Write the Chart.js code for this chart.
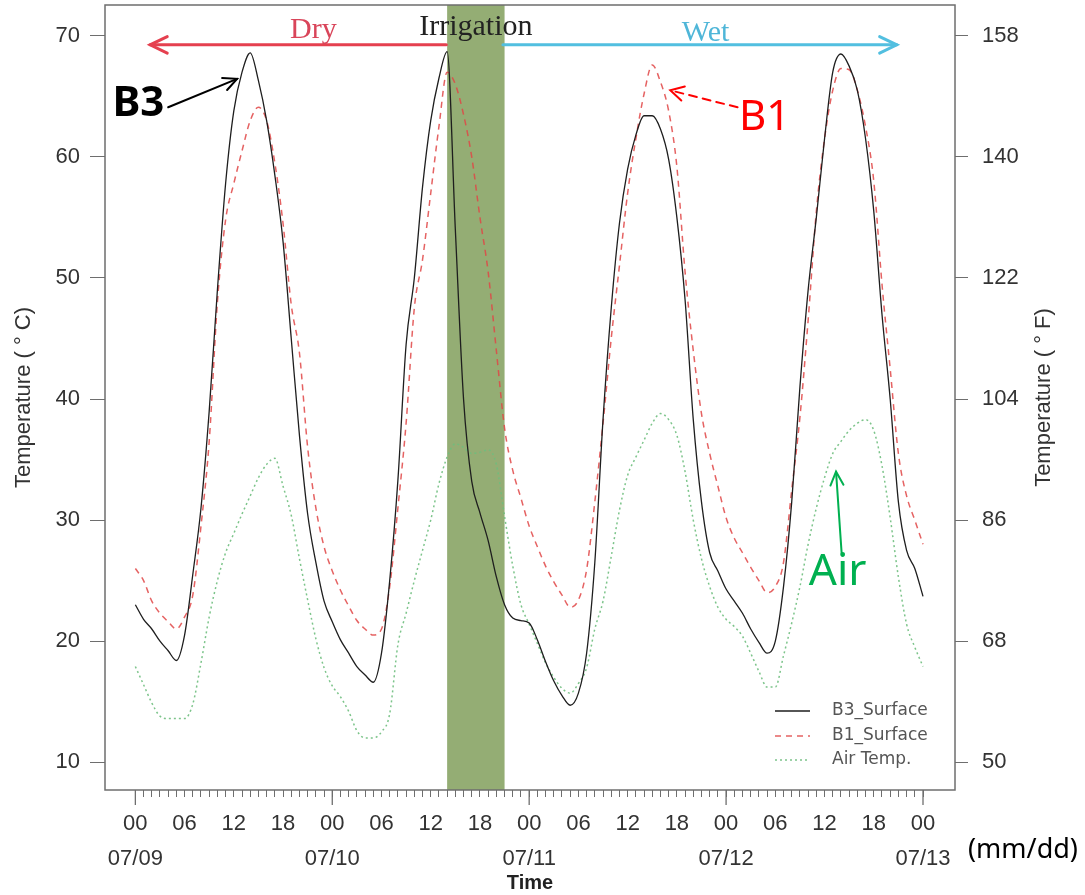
<!DOCTYPE html>
<html>
<head>
<meta charset="utf-8">
<script src="https://cdn.jsdelivr.net/npm/chart.js@4.4.1/dist/chart.umd.min.js"></script>
<style>
  html, body { margin: 0; padding: 0; background: #fff; }
  #wrap { position: relative; width: 1085px; height: 895px; }
</style>
</head>
<body>
<div id="wrap"><canvas id="tempChart"></canvas></div>
<script>
// hourly readings from 07/09 00:00 to 07/13 00:00 (deg C)
const dayLabels = ['07/09', '07/10', '07/11', '07/12', '07/13'];
const b3Surface = [23.0, 21.8, 21.0, 20.0, 19.2, 18.4, 20.5, 25.5, 31.0, 39.0,
  49.0, 57.8, 63.8, 67.0, 68.6, 66.3, 63.0, 58.5, 53.0, 45.0,
  37.0, 30.5, 26.5, 23.3, 21.6, 20.1, 19.0, 17.9, 17.2, 16.6,
  19.0, 25.0, 33.3, 44.5, 50.0, 57.5, 63.0, 66.5, 68.7, 54.0,
  40.0, 33.2, 30.6, 28.3, 25.3, 23.0, 21.9, 21.7, 21.5, 20.1,
  18.3, 16.7, 15.5, 14.7, 15.7, 19.0, 26.5, 38.3, 47.5, 54.5,
  59.0, 61.8, 63.4, 63.4, 62.3, 59.8, 55.0, 48.2, 38.3, 31.5,
  27.3, 25.8, 24.3, 23.3, 22.3, 21.0, 19.9, 19.0, 20.0, 24.5,
  31.5, 41.0, 49.0, 55.0, 61.5, 67.0, 68.5, 67.5, 65.5, 61.5,
  55.5, 47.0, 40.0, 31.5, 27.5, 26.0, 23.7];
const b1Surface = [26.0, 25.0, 23.3, 22.3, 21.6, 21.0, 22.0, 23.8, 29.5, 36.5,
  48.0, 54.8, 57.8, 60.5, 63.0, 64.1, 63.0, 59.5, 54.5, 47.8,
  43.8, 36.0, 31.0, 27.8, 25.8, 24.2, 22.9, 21.7, 21.0, 20.5,
  21.0, 24.5, 31.0, 38.0, 47.5, 51.5, 57.0, 62.5, 67.0, 66.0,
  63.5, 60.0, 55.0, 50.5, 44.0, 37.6, 34.1, 31.8, 29.5, 27.8,
  26.2, 24.9, 23.8, 22.8, 23.4, 25.9, 31.5, 38.0, 45.0, 51.0,
  57.0, 61.5, 65.2, 67.6, 66.2, 63.8, 59.2, 50.5, 44.0, 38.8,
  35.5, 32.8, 30.2, 28.5, 27.3, 26.1, 25.0, 24.0, 24.5, 26.5,
  32.5, 38.5, 46.5, 55.5, 61.5, 65.5, 67.3, 67.2, 65.5, 62.5,
  58.0, 49.5, 42.5, 35.5, 32.0, 30.0, 28.0];
const airTemp = [17.9, 16.4, 14.9, 13.8, 13.6, 13.6, 13.6, 14.8, 18.2, 22.0,
  25.0, 27.3, 28.9, 30.5, 32.0, 33.5, 34.6, 35.1, 32.8, 30.4,
  26.8, 23.4, 20.2, 17.8, 16.3, 15.4, 14.2, 12.6, 12.0, 12.0,
  12.5, 14.0, 19.7, 22.3, 25.0, 27.5, 30.0, 33.0, 35.2, 36.3,
  36.0, 35.5, 35.6, 35.8, 34.6, 30.3, 26.2, 23.0, 21.4, 19.8,
  18.2, 17.0, 16.1, 15.7, 16.5, 17.8, 21.0, 23.3, 27.0, 30.8,
  33.7, 35.2, 36.6, 38.0, 38.8, 38.3, 37.0, 34.0, 30.0, 26.8,
  24.5, 22.8, 21.8, 21.2, 20.4, 19.0, 17.5, 16.2, 16.2, 18.8,
  21.5, 24.5, 28.0, 31.0, 33.5, 35.5, 36.5, 37.4, 38.0, 38.3,
  37.4, 34.5, 30.2, 25.3, 21.4, 19.5, 17.9];
const celsiusTicks = [10, 20, 30, 40, 50, 60, 70];
const fahrenheitTicks = [50, 68, 86, 104, 122, 140, 158];
const irrigationHours = [38, 45];

const hours = b3Surface.map((v, i) => i);
const yMin = 7.7, yMax = 72.55;
const toF = c => c * 1.8 + 32;
const tickFont = { family: 'Liberation Sans, Arial, sans-serif', size: 22 };

function arrow(ctx, x0, y0, x1, y1, head, spread) {
  ctx.beginPath();
  ctx.moveTo(x0, y0);
  ctx.lineTo(x1, y1);
  ctx.stroke();
  const a = Math.atan2(y1 - y0, x1 - x0);
  ctx.setLineDash([]);
  ctx.beginPath();
  ctx.moveTo(x1 - head * Math.cos(a - spread), y1 - head * Math.sin(a - spread));
  ctx.lineTo(x1, y1);
  ctx.lineTo(x1 - head * Math.cos(a + spread), y1 - head * Math.sin(a + spread));
  ctx.stroke();
}

const bandPlugin = {
  id: 'irrigationBand',
  beforeDatasetsDraw(chart) {
    const { ctx, chartArea, scales } = chart;
    const x0 = scales.x.getPixelForValue(irrigationHours[0]);
    const x1 = scales.x.getPixelForValue(irrigationHours[1]);
    ctx.save();
    ctx.fillStyle = '#94ad74';
    ctx.fillRect(x0, chartArea.top, x1 - x0, chartArea.bottom - chartArea.top);
    ctx.restore();
  }
};

const framePlugin = {
  id: 'frame',
  afterDraw(chart) {
    const { ctx, chartArea, scales } = chart;
    ctx.save();
    ctx.strokeStyle = '#6e6e6e';
    ctx.lineWidth = 1.5;
    ctx.strokeRect(chartArea.left, chartArea.top, chartArea.right - chartArea.left, chartArea.bottom - chartArea.top);
    // longer ticks at midnight
    ctx.lineWidth = 1.3;
    hours.filter(h => h % 24 === 0).forEach(h => {
      const x = scales.x.getPixelForValue(h);
      ctx.beginPath();
      ctx.moveTo(x, chartArea.bottom);
      ctx.lineTo(x, chartArea.bottom + 15);
      ctx.stroke();
    });
    // right axis title reads bottom-to-top like the left one
    ctx.fillStyle = '#333';
    ctx.font = '22px Liberation Sans, Arial, sans-serif';
    ctx.textAlign = 'center';
    ctx.textBaseline = 'middle';
    ctx.translate(1044, (chartArea.top + chartArea.bottom) / 2);
    ctx.rotate(-Math.PI / 2);
    ctx.fillText('Temperature ( \u00b0 F)', 0, 0);
    ctx.restore();
  }
};

const legendPlugin = {
  id: 'cornerLegend',
  afterDraw(chart) {
    const { ctx, chartArea } = chart;
    const x0 = chartArea.right - 180;
    const rows = [chartArea.bottom - 79, chartArea.bottom - 54, chartArea.bottom - 30];
    ctx.save();
    ctx.font = '17px DejaVu Sans, sans-serif';
    ctx.textBaseline = 'middle';
    chart.data.datasets.forEach((ds, i) => {
      ctx.strokeStyle = ds.borderColor;
      ctx.lineWidth = ds.borderWidth;
      ctx.setLineDash(ds.borderDash || []);
      ctx.beginPath();
      ctx.moveTo(x0, rows[i]);
      ctx.lineTo(x0 + 35, rows[i]);
      ctx.stroke();
      ctx.fillStyle = '#555';
      ctx.fillText(ds.label, x0 + 57, rows[i]);
    });
    ctx.restore();
  }
};

const notePlugin = {
  id: 'notes',
  afterDraw(chart) {
    const { ctx, chartArea, scales } = chart;
    const px = (h, t) => [scales.x.getPixelForValue(h), scales.y.getPixelForValue(t)];
    ctx.save();
    ctx.lineCap = 'round';
    // Dry / Wet period arrows
    let a = px(37.9, 69.26), b = px(1.8, 69.26);
    ctx.strokeStyle = '#e5404f'; ctx.lineWidth = 3;
    arrow(ctx, a[0], a[1], b[0], b[1], 19, 0.45);
    a = px(44.8, 69.26); b = px(92.8, 69.26);
    ctx.strokeStyle = '#52bfe0';
    arrow(ctx, a[0], a[1], b[0], b[1], 19, 0.45);

    ctx.textAlign = 'center';
    ctx.textBaseline = 'middle';
    ctx.font = '30px Liberation Serif, Times New Roman, serif';
    ctx.fillStyle = '#d9455a';
    let p = px(21.7, 70.5); ctx.fillText('Dry', p[0], p[1]);
    ctx.fillStyle = '#222';
    p = px(41.5, 70.74); ctx.fillText('Irrigation', p[0], p[1]);
    ctx.fillStyle = '#4fb6d8';
    p = px(69.5, 70.25); ctx.fillText('Wet', p[0], p[1]);

    // series callouts
    ctx.font = 'bold 42px Noto Sans, sans-serif';
    ctx.fillStyle = '#000';
    p = px(0.37, 64.4); ctx.fillText('B3', p[0], p[1]);
    ctx.strokeStyle = '#000'; ctx.lineWidth = 2;
    a = px(4.0, 64.1); b = px(12.4, 66.45);
    arrow(ctx, a[0], a[1], b[0], b[1], 15, 0.45);

    ctx.font = '42px Noto Sans, sans-serif';
    ctx.fillStyle = '#ff0000';
    p = px(76.7, 63.2); ctx.fillText('B1', p[0], p[1]);
    ctx.strokeStyle = '#ff0000'; ctx.lineWidth = 2;
    ctx.setLineDash([8, 6]);
    a = px(73.4, 64.1); b = px(65.2, 65.5);
    arrow(ctx, a[0], a[1], b[0], b[1], 15, 0.5);

    ctx.font = '44px Noto Sans, sans-serif';
    ctx.fillStyle = '#00b050';
    p = px(85.6, 25.7); ctx.fillText('Air', p[0], p[1]);
    ctx.strokeStyle = '#00b050'; ctx.lineWidth = 2;
    a = px(86.1, 27.1); b = px(85.4, 34.0);
    arrow(ctx, a[0], a[1], b[0], b[1], 15, 0.45);

    ctx.font = '27px Noto Sans, sans-serif';
    ctx.fillStyle = '#000';
    ctx.textAlign = 'left';
    ctx.fillText('(mm/dd)', chartArea.right + 13, chartArea.bottom + 60);
    ctx.restore();
  }
};

// vertical scales: fixed width and no extra label padding above/below the plot box
const fitVertical = w => s => { s.width = w; s.paddingTop = 0; s.paddingBottom = 0; };

new Chart(document.getElementById('tempChart'), {
  type: 'line',
  data: {
    datasets: [
      { label: 'B3_Surface', data: hours.map((h, i) => ({ x: h, y: b3Surface[i] })),
        borderColor: '#1e1e1e', borderWidth: 1.3, pointRadius: 0, cubicInterpolationMode: 'monotone' },
      { label: 'B1_Surface', data: hours.map((h, i) => ({ x: h, y: b1Surface[i] })),
        borderColor: 'rgba(224,70,70,0.85)', borderWidth: 1.5, borderDash: [6, 5], pointRadius: 0, cubicInterpolationMode: 'monotone' },
      { label: 'Air Temp.', data: hours.map((h, i) => ({ x: h, y: airTemp[i] })),
        borderColor: 'rgba(110,190,125,0.9)', borderWidth: 1.5, borderDash: [2, 3], pointRadius: 0, cubicInterpolationMode: 'monotone' }
    ]
  },
  options: {
    responsive: true,
    maintainAspectRatio: false,
    animation: false,
    devicePixelRatio: 1,
    layout: { padding: { top: 5, left: 0, right: 0, bottom: 0 } },
    plugins: { legend: { display: false }, tooltip: { enabled: false } },
    scales: {
      x: {
        type: 'linear',
        min: -3.7,
        max: 99.9,
        afterBuildTicks: s => { s.ticks = hours.map(h => ({ value: h })); },
        afterFit: s => { s.height = 105; s.paddingLeft = 0; s.paddingRight = 0; },
        ticks: {
          autoSkip: false, maxRotation: 0, minRotation: 0,
          font: Object.assign({ lineHeight: 1.6 }, tickFont), color: '#333', padding: 9,
          callback: v => {
            if (v % 6 !== 0) return '';
            const hh = String(v % 24).padStart(2, '0');
            return v % 24 === 0 ? [hh, dayLabels[v / 24]] : hh;
          }
        },
        grid: { drawOnChartArea: false, tickLength: 7, color: '#6e6e6e', tickWidth: 1 },
        border: { display: false },
        title: { display: true, text: 'Time', color: '#222',
          font: { family: 'Liberation Sans, Arial, sans-serif', size: 20, weight: 'bold', lineHeight: 1.2 },
          padding: { top: 0, bottom: 0 } }
      },
      y: {
        position: 'left',
        min: yMin,
        max: yMax,
        afterBuildTicks: s => { s.ticks = celsiusTicks.map(v => ({ value: v })); },
        afterFit: fitVertical(105),
        ticks: { font: tickFont, color: '#333', padding: 10 },
        grid: { drawOnChartArea: false, tickLength: 15, color: '#6e6e6e' },
        border: { display: false },
        title: { display: true, text: 'Temperature ( \u00b0 C)', color: '#333',
          font: { family: 'Liberation Sans, Arial, sans-serif', size: 22, lineHeight: 1.2 },
          padding: { top: 11, bottom: 0 } }
      },
      y2: {
        position: 'right',
        min: toF(yMin),
        max: toF(yMax),
        afterBuildTicks: s => { s.ticks = fahrenheitTicks.map(v => ({ value: v })); },
        afterFit: fitVertical(130),
        ticks: { font: tickFont, color: '#333', padding: 14 },
        grid: { drawOnChartArea: false, tickLength: 13, color: '#6e6e6e' },
        border: { display: false }
      }
    }
  },
  plugins: [bandPlugin, framePlugin, legendPlugin, notePlugin]
});
</script>
</body>
</html>
